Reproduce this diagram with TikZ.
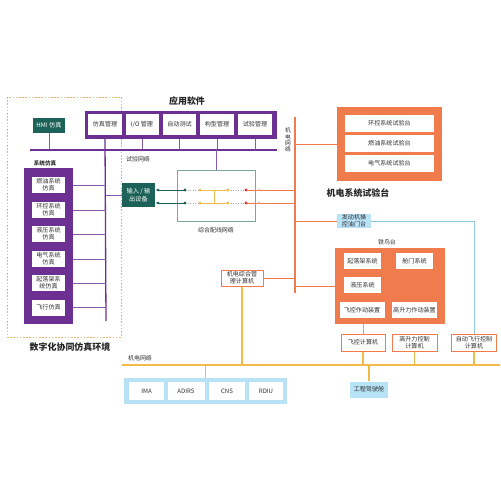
\documentclass[tikz,border=0pt]{standalone}
\usepackage{fontspec}
\setmainfont{Noto Sans CJK SC}
\usetikzlibrary{arrows.meta}
\definecolor{lila}{RGB}{108,48,146}
\definecolor{petrolgruen}{RGB}{28,98,88}
\definecolor{orangerot}{RGB}{240,124,78}
\definecolor{gold}{RGB}{242,186,72}
\definecolor{hellblau}{RGB}{184,226,246}
\definecolor{linienblau}{RGB}{140,202,228}
\definecolor{beige}{RGB}{232,180,110}
\definecolor{rahmen}{RGB}{128,164,164}
\definecolor{punktrot}{RGB}{226,52,40}
\definecolor{schrift}{RGB}{50,50,50}
\newcommand{\wbox}[5]{
    % #1 = name
    % #2 = position
    % #3 = breite
    % #4 = text
    % #5 = stil
    \node[wbox, #5, minimum width=#3] (#1) at (#2) {#4};
}

\begin{document}
\begin{tikzpicture}[x=1bp, y=-1bp,
    wbox/.style={fill=white, inner sep=0pt, minimum height=16bp, align=center,
        text=schrift, font=\fontsize{6.1}{6.9}\selectfont},
    lilabox/.style={fill=lila, inner sep=0pt},
    orangebox/.style={fill=orangerot, inner sep=0pt},
    tealbox/.style={fill=petrolgruen, text=white, inner sep=0pt, align=center,
        font=\fontsize{6.2}{7.4}\selectfont},
    outbox/.style={draw=orangerot, line width=1bp, fill=white},
    bluebox/.style={fill=hellblau, inner sep=0pt, align=center,
        text=schrift, font=\fontsize{6.1}{6.9}\selectfont},
    titel/.style={font=\bfseries\fontsize{9}{10}\selectfont, text=black!85},
    netztext/.style={font=\fontsize{6}{7}\selectfont, text=schrift, align=center},
    lilalinie/.style={draw=lila, line width=1.3bp},
    liladuenn/.style={draw=lila!80, line width=0.8bp},
    orangelinie/.style={draw=orangerot, line width=1.3bp},
    orangeduenn/.style={draw=orangerot, line width=0.9bp},
    goldlinie/.style={draw=gold, line width=1.2bp}]

    \useasboundingbox (0,0) rectangle (500,500);

    % digitale simulation
    \draw[beige, line width=0.9bp, dash pattern=on 1.6bp off 1.6bp] (7,97) rectangle (121,337);
    \node[titel] (umgebung) at (70,347) {数字化协同仿真环境};

    \node[tealbox, minimum width=32bp, minimum height=15bp] (hmi) at (49,125.5) {HMI 仿真};

    \node[titel] (apptitel) at (187,101) {应用软件};
    \node[lilabox, minimum width=192bp, minimum height=28bp] (app) at (181,125) {};
    \wbox{sw1}{105,124.5}{34bp}{仿真管理}{minimum height=21bp}
    \wbox{sw2}{142,124.5}{33bp}{I/O 管理}{minimum height=21bp}
    \wbox{sw3}{179.5,124.5}{33bp}{自动测试}{minimum height=21bp}
    \wbox{sw4}{217,124.5}{34bp}{构型管理}{minimum height=21bp}
    \wbox{sw5}{255,124.5}{34bp}{试验管理}{minimum height=21bp}

    % versuchsnetz
    \coordinate (netzL) at (30,150);
    \coordinate (netzR) at (277,150);
    \coordinate (busU) at (106,321);
    \draw[lilalinie] (netzL) -- (netzR);
    \node[netztext] (netzname) at (138,159) {试验网络};
    \draw[liladuenn] (hmi.south) -- (hmi.south |- netzL);
    \foreach \k in {2,3,4,5}{
        \draw[liladuenn] (sw\k.center |- app.south) -- (sw\k.center |- netzL);
    }
    \draw[lilalinie] (sw1.center |- app.south) -- (busU);

    \node[netztext, font=\bfseries\fontsize{5.6}{6.4}\selectfont] (systitel) at (45,163) {系统仿真};
    \node[lilabox, minimum width=49bp, minimum height=156bp] (sys) at (48.5,246) {};
    \wbox{s1}{48.5,185}{33bp}{燃油系统\\仿真}{}
    \wbox{s2}{48.5,210}{33bp}{环控系统\\仿真}{}
    \wbox{s3}{48.5,234}{33bp}{液压系统\\仿真}{}
    \wbox{s4}{48.5,259}{33bp}{电气系统\\仿真}{}
    \wbox{s5}{48.5,283}{33bp}{起落架系\\统仿真}{}
    \wbox{s6}{48.5,307.5}{33bp}{飞行仿真}{}
    \foreach \k in {1,...,6}{
        \draw[liladuenn] (sys.east |- s\k) -- (s\k -| busU);
    }

    \node[tealbox, minimum width=33bp, minimum height=24bp] (io) at (138.5,195) {输入 / 输\\出设备};
    \draw[liladuenn] (io.west) -- (io.west -| busU);

    % verdrahtung
    \node[draw=rahmen, line width=0.8bp, minimum width=78bp, minimum height=51bp] (kabel) at (216,196) {};
    \node[netztext] (kabelname) at (216,230) {综合配线网络};
    \draw[liladuenn] (kabel.north) -- (kabel.north |- netzR);

    % elektromechanik
    \coordinate (emO) at (295,117);
    \coordinate (emU) at (295,293);
    \draw[orangelinie] (emO) -- (emU);
    \node[netztext, font=\fontsize{5.8}{6.4}\selectfont] (emname) at (288,140) {机\\电\\网\\络};

    \foreach \yy [count=\i] in {190,203}{
        \coordinate (ta\i) at (185,\yy);
        \coordinate (ya\i) at (200,\yy);
        \coordinate (ym\i) at (214,\yy);
        \coordinate (yb\i) at (228,\yy);
        \coordinate (ra\i) at (246,\yy);
        \coordinate (rb\i) at (259,\yy);
        \draw[petrolgruen, line width=0.8bp, -{Latex[length=4bp, width=3.2bp]}] (ta\i) -- (io.east |- ta\i);
        \draw[gray!70, line width=0.8bp, dash pattern=on 1bp off 1.5bp] (ta\i) -- (ya\i);
        \draw[gold, line width=0.8bp] (ya\i) -- (yb\i);
        \draw[gray!70, line width=0.8bp, dash pattern=on 1bp off 1.5bp] (yb\i) -- (ra\i);
        \draw[orangeduenn] (ra\i) -- (ra\i -| emO);
        \fill[petrolgruen] (ta\i) circle (1.6bp);
        \fill[gold] (ya\i) circle (1.6bp);
        \fill[gold] (yb\i) circle (1.6bp);
        \fill[punktrot] (ra\i) circle (1.6bp);
        \fill[orangerot!70] (rb\i) circle (1.2bp);
    }
    \draw[gold, line width=0.8bp] (ym1) -- (ym2);

    \node[orangebox, minimum width=105bp, minimum height=74bp] (pruef) at (389.5,144) {};
    \wbox{p1}{389.5,123.5}{89bp}{环控系统试验台}{minimum height=17bp}
    \wbox{p2}{389.5,143.5}{89bp}{燃油系统试验台}{minimum height=17bp}
    \wbox{p3}{389.5,163.5}{89bp}{电气系统试验台}{minimum height=17bp}
    \draw[orangeduenn] (pruef.west) -- (pruef.west -| emO);
    \node[titel] (prueftitel) at (358,193) {机电系统试验台};

    \node[bluebox, minimum width=34bp, minimum height=14bp] (motor) at (354,221) {发动机操\\控油门台};
    \draw[orangeduenn] (motor.west) -- (motor.west -| emO);

    \node[netztext] (eisentitel) at (387,242) {铁鸟台};
    \node[orangebox, minimum width=110bp, minimum height=76bp] (eisen) at (390,286) {};
    \wbox{e1}{362.5,261}{37bp}{起落架系统}{}
    \wbox{e2}{414.5,261}{37bp}{舱门系统}{}
    \wbox{e3}{362.5,285}{37bp}{液压系统}{}
    \wbox{e4}{362,310}{45bp}{飞控作动装置}{}
    \wbox{e5}{414.5,310}{45bp}{高升力作动装置}{}
    \draw[orangeduenn] (eisen.west) -- (eisen.west -| emU);

    \node[wbox, outbox, minimum width=42bp] (emrechner) at (242,278) {机电综合管\\理计算机};
    \draw[orangeduenn] (emrechner.east) -- (emrechner.east -| emU);

    \node[wbox, outbox, minimum width=44bp, minimum height=17bp] (fcc) at (363,342.5) {飞控计算机};
    \node[wbox, outbox, minimum width=45bp, minimum height=17bp] (hlc) at (414.5,342.5) {高升力控制\\计算机};
    \node[wbox, outbox, minimum width=45bp, minimum height=17bp] (afc) at (474,342.5) {自动飞行控制\\计算机};
    \draw[orangeduenn, draw=orangerot!80] (fcc.north) -- (fcc.north |- eisen.south);
    \draw[linienblau, line width=1bp] (motor.east) -- (motor.east -| afc.north) -- (afc.north);

    % bordnetz unten
    \coordinate (bordL) at (122,365);
    \coordinate (bordR) at (500,365);
    \draw[goldlinie] (bordL) -- (bordR);
    \node[netztext] (bordname) at (140,358) {机电网络};
    \foreach \r in {emrechner,fcc,hlc,afc}{
        \draw[goldlinie] (\r.south) -- (\r.south |- bordL);
    }

    \node[bluebox, minimum width=163bp, minimum height=26bp] (avionik) at (205.5,391) {};
    \wbox{a1}{146.5,391}{35bp}{IMA}{minimum height=18bp}
    \wbox{a2}{186,391}{37bp}{ADIRS}{minimum height=18bp}
    \wbox{a3}{227,391}{36bp}{CNS}{minimum height=18bp}
    \wbox{a4}{266,391}{34bp}{RDIU}{minimum height=18bp}
    \draw[goldlinie] (avionik.north) -- (avionik.north |- bordL);

    \node[bluebox, minimum width=38bp, minimum height=16bp] (cockpit) at (369,389.5) {工程驾驶舱};
    \draw[goldlinie] (cockpit.north) -- (cockpit.north |- bordL);

\end{tikzpicture}
\end{document}
